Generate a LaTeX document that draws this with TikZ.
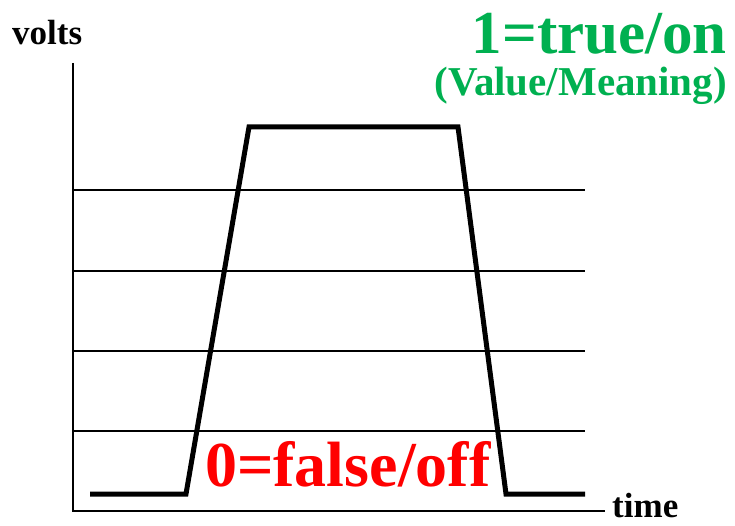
\documentclass[tikz,border=0pt]{standalone}
\usepackage{fontspec}
\setmainfont{Liberation Serif}[BoldFont={Liberation Serif Bold}]
\definecolor{grn}{RGB}{0,176,80}
\definecolor{rd}{RGB}{255,0,0}
\begin{document}
\begin{tikzpicture}[x=1pt,y=-1pt,
  axis/.style={line width=2pt},
  grid/.style={line width=1.5pt},
  sig/.style={line width=5pt,line join=miter},
  lbl/.style={inner sep=0pt}]
\useasboundingbox (0,0) rectangle (735,526);
% axes
\coordinate (ytop) at (73,63);
\coordinate (orig) at (73,511);
\coordinate (xend) at (605,511);
\draw[axis] (ytop) -- (orig) -- (xend);
% grid lines
\foreach \y/\n in {190/g1,271/g2,351/g3,431/g4}{
  \coordinate (\n a) at (73,\y);
  \coordinate (\n b) at (585,\y);
  \draw[grid] (\n a) -- (\n b);
}
% signal
\coordinate (s0) at (90,494);
\coordinate (s1) at (186,494);
\coordinate (s2) at (249,127);
\coordinate (s3) at (458,127);
\coordinate (s4) at (506,494);
\coordinate (s5) at (585,494);
\draw[sig] (s0) -- (s1) -- (s2) -- (s3) -- (s4) -- (s5);
% labels
\node[lbl,anchor=base west,font=\bfseries\fontsize{35}{35}\selectfont] (volts) at (12,45) {volts};
\node[lbl,anchor=base west,font=\bfseries\fontsize{35}{35}\selectfont] (time) at (612,517) {time};
\node[lbl,anchor=base east,text=grn,font=\bfseries\fontsize{61}{61}\selectfont] (one) at (727,54) {1=true/on};
\node[lbl,anchor=base east,text=grn,font=\bfseries\fontsize{41}{41}\selectfont] (vm) at (727,96) {(Value/Meaning)};
\node[lbl,anchor=base west,text=rd,font=\bfseries\fontsize{64}{64}\selectfont] (zero) at (205,486) {0=false/off};
\end{tikzpicture}
\end{document}
